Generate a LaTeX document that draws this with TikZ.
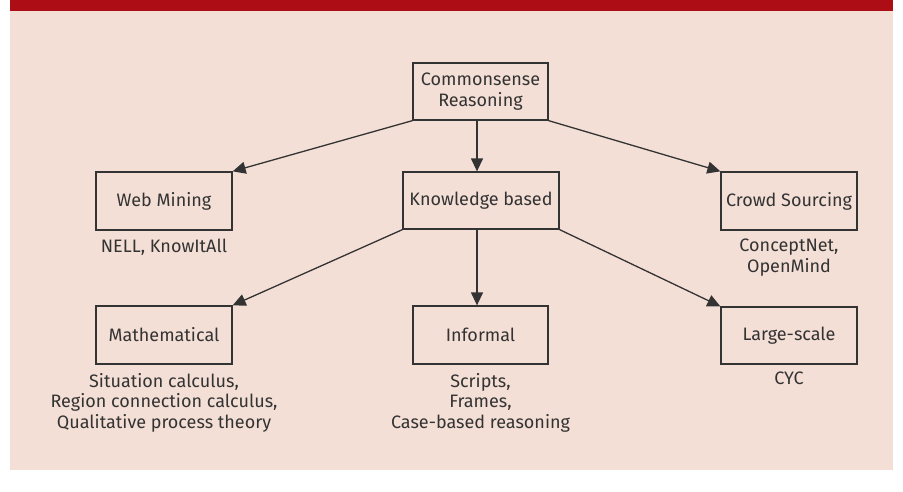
\documentclass[tikz,border=0pt]{standalone}
\usepackage{fontspec}
\setmainfont{Fira Sans}
\usetikzlibrary{arrows.meta}
\definecolor{barred}{HTML}{AD0E15}
\definecolor{bgpink}{HTML}{F4DFD6}
\definecolor{ink}{HTML}{333333}
\tikzset{
  box/.style={draw=ink, line width=1.3pt, text=ink, inner sep=0pt, align=center,
    font=\fontsize{18}{21}\selectfont},
  lbl/.style={text=ink, inner sep=0pt, align=center, anchor=north,
    font=\fontsize{18}{20.5}\selectfont},
  conn/.style={draw=ink, line width=1.3pt, -{Triangle[length=13pt,width=12pt]}}
}
\begin{document}
\begin{tikzpicture}[x=1pt,y=-1pt]
\useasboundingbox (0,0) rectangle (903,491);
\fill[white] (0,0) rectangle (903,491);
\fill[bgpink] (10,11) rectangle (893,470);
\fill[barred] (10,0) rectangle (893,11);

\node[box, minimum width=135pt, minimum height=57pt] (cr) at (480.5,91.5) {Commonsense\\Reasoning};
\node[box, minimum width=136pt, minimum height=58pt] (wm) at (164,201) {Web Mining};
\node[box, minimum width=156pt, minimum height=57pt] (kb) at (481,200.5) {Knowledge based};
\node[box, minimum width=136pt, minimum height=58pt] (cs) at (789,201) {Crowd Sourcing};
\node[box, minimum width=136pt, minimum height=58pt] (ma) at (164,335) {Mathematical};
\node[box, minimum width=135pt, minimum height=58pt] (inf) at (480.5,335) {Informal};
\node[box, minimum width=136pt, minimum height=57pt] (ls) at (789,335.5) {Large-scale};

\node[lbl] (wml) at (164,239) {NELL, KnowItAll};
\node[lbl] (csl) at (789,239) {ConceptNet,\\OpenMind};
\node[lbl] (mal) at (164,373) {Situation calculus,\\Region connection calculus,\\Qualitative process theory};
\node[lbl] (infl) at (480.5,373) {Scripts,\\Frames,\\Case-based reasoning};
\node[lbl] (lsl) at (789,372) {CYC};

\draw[conn] (cr.south west) -- (wm.north east);
\draw[conn] ([xshift=-3.5pt]cr.south) -- ([xshift=-4pt]kb.north);
\draw[conn] (cr.south east) -- (cs.north west);
\draw[conn] (kb.south west) -- (ma.north east);
\draw[conn] ([xshift=-4pt]kb.south) -- ([xshift=-3.5pt]inf.north);
\draw[conn] (kb.south east) -- (ls.north west);
\end{tikzpicture}
\end{document}
